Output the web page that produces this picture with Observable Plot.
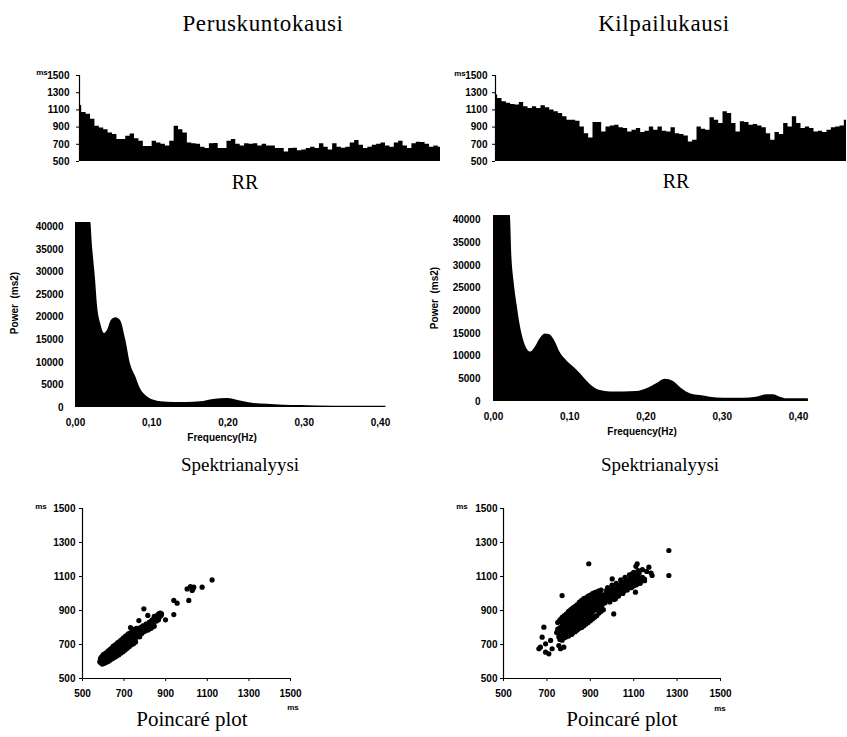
<!DOCTYPE html>
<html>
<head>
<meta charset="utf-8">
<script src="https://cdn.jsdelivr.net/npm/d3@7"></script>
<script src="https://cdn.jsdelivr.net/npm/@observablehq/plot@0.6"></script>
<style>
  html, body { margin: 0; padding: 0; background: #fff; }
  #fig { position: relative; width: 847px; height: 737px; background: #fff; overflow: hidden; }
  .panel { position: absolute; }
  .lbl { position: absolute; transform: translate(-50%, -50%); white-space: pre; line-height: 1; color: #000; }
  .serif { font-family: "Liberation Serif", "Times New Roman", serif; }
  .sans { font-family: "Liberation Sans", Arial, sans-serif; font-weight: bold; }
</style>
</head>
<body>
<div id="fig"></div>
<script>
// ---------------- data ----------------
const columnTitles = ["Peruskuntokausi", "Kilpailukausi"];
const rowTitles = ["RR", "Spektrianalyysi", "Poincaré plot"];

// RR interval series (ms)
const rrPerus = [1150,1070,1050,990,910,890,870,830,815,755,755,795,820,765,735,675,675,735,715,700,
  680,735,910,870,830,715,705,700,665,650,705,710,650,650,735,755,700,680,705,700,
  705,680,700,680,680,650,650,610,650,655,625,635,650,665,650,705,665,635,705,665,
  655,665,715,745,690,650,665,690,700,715,680,665,715,735,680,650,705,725,720,700,
  665,680,665];
const rrKilpa = [1273,1234,1195,1176,1164,1156,1187,1137,1117,1137,1117,1148,1125,1098,1078,1059,1020,980,980,969,
  902,824,773,953,953,844,902,914,922,891,883,844,863,883,836,852,902,863,902,852,
  844,891,824,813,797,727,746,902,875,863,1008,980,941,1078,1059,941,844,961,953,922,
  930,914,891,824,746,836,813,941,902,1020,941,883,902,883,844,852,836,863,891,902,
  914,980];
const rrTicks = [500, 700, 900, 1100, 1300, 1500];

// Power spectra (Hz, ms2); the first values are cut by the top of the plot
const freqPerus  = [0, 0.020, 0.022, 0.026, 0.029, 0.033, 0.038, 0.042, 0.047, 0.053, 0.059, 0.066, 0.072, 0.079, 0.085, 0.094, 0.103, 0.112, 0.129, 0.146, 0.164, 0.181, 0.199, 0.208, 0.221, 0.234, 0.251, 0.273, 0.295, 0.339, 0.383, 0.407];
const powerPerus = [41000, 41000, 36300, 28900, 22300, 18600, 16400, 17100, 19300, 19900, 19300, 14900, 9700, 6800, 4200, 2400, 1600, 1250, 1100, 1100, 1250, 1800, 2000, 1800, 1250, 900, 740, 500, 440, 300, 300, 300];
const freqKilpa  = [0, 0.022, 0.024, 0.027, 0.031, 0.035, 0.039, 0.044, 0.049, 0.055, 0.061, 0.068, 0.074, 0.081, 0.087, 0.096, 0.105, 0.114, 0.122, 0.131, 0.140, 0.153, 0.171, 0.188, 0.201, 0.214, 0.225, 0.236, 0.247, 0.258, 0.271, 0.284, 0.302, 0.328, 0.345, 0.359, 0.367, 0.376, 0.385, 0.413];
const powerKilpa = [41000, 41000, 32200, 26300, 21200, 16800, 13800, 11600, 10900, 12000, 13800, 14900, 14700, 13100, 10900, 9000, 7600, 6100, 4600, 3200, 2400, 2100, 2100, 2200, 2800, 3900, 4900, 4400, 2800, 1700, 1300, 960, 740, 740, 960, 1500, 1500, 960, 600, 600];
const freqTicks = [0, 0.1, 0.2, 0.3, 0.4];
const powerTicks = [0, 5000, 10000, 15000, 20000, 25000, 30000, 35000, 40000];

// Poincaré plots: [RR(n), RR(n+1)] in ms
const poincarePerus = [
  [583,598],[588,592],[590,607],[594,615],[597,600],[600,590],[602,622],[605,608],[608,598],[610,630],
  [612,615],[615,603],[618,638],[620,622],[622,610],[625,645],[627,630],[630,617],[632,652],[634,637],
  [637,624],[640,660],[642,645],[645,630],[647,668],[650,652],[652,638],[655,675],[657,660],[660,645],
  [662,683],[664,667],[667,652],[670,690],[672,674],[675,660],[677,698],[680,682],[682,667],[685,705],
  [687,690],[690,674],[692,712],[695,697],[697,682],[700,720],[702,704],[705,690],[707,727],[710,712],
  [712,697],[715,735],[718,719],[720,704],[723,742],[726,726],[729,712],[732,748],[735,733],[738,718],
  [742,752],[746,738],[750,725],[600,600],[620,615],[640,640],[660,660],[680,690],[700,700],[720,725],
  [586,615],[590,625],[596,632],[600,640],[604,628],[608,645],[612,650],[616,640],[620,655],[624,662],
  [628,650],[632,668],[636,675],[640,665],[644,682],[648,690],[652,678],[656,695],[660,700],[664,690],
  [668,708],[672,712],[676,700],[680,718],[684,725],[688,712],[692,730],[696,738],[700,728],[704,745],
  [708,750],[712,740],[716,755],[720,762],[724,750],[728,765],[732,770],[736,758],[740,772],[744,765],
  [748,778],[752,770],
  [595,585],[605,590],[615,595],[625,602],[635,610],[645,618],[655,625],[665,632],[675,640],[685,650],
  [695,658],[705,668],[715,678],[725,688],[735,698],[745,705],[755,715],
  [755,760],[760,742],[765,790],[768,770],[772,752],[778,800],[782,785],[785,765],[790,810],[795,792],
  [800,778],[805,820],[810,800],[815,785],[820,830],[825,812],[830,795],[835,845],[840,825],[845,808],
  [850,855],[855,838],[858,870],[862,850],[866,880],[870,862],[874,885],[878,870],
  [762,780],[775,745],[788,770],[798,805],[808,815],[818,790],[828,835],[838,805],[848,840],[858,845],
  [868,870],[880,880],[845,865],[865,845],[760,795],[752,790],
  [795,910],[771,841],[731,800],[899,845],[939,876],[939,959],[955,943],[1011,959],[1003,1027],[1027,1018],
  [1035,1037],[1019,1041],[1030,1025],[1075,1037],[1123,1080],[814,871]
];
const poincareKilpa = [
  [686,802],[670,684],[694,655],[663,675],[717,724],[724,675],[763,675],[755,694],[778,684],[709,645],
  [678,743],[694,704],[770,988],[893,1175],[1262,1253],[1262,1106],
  [745,770],[750,790],[755,745],[760,800],[762,765],[768,780],[770,740],[772,815],[775,760],[778,795],
  [780,775],[783,830],[785,750],[788,805],[790,785],[793,765],[795,840],[798,815],[800,795],[803,775],
  [805,860],[808,830],[810,805],[812,785],[815,760],[818,850],[820,820],[823,800],[825,875],[828,840],
  [830,815],[832,790],[835,865],[838,845],[840,825],[843,800],[845,890],[848,860],[850,835],[853,815],
  [855,900],[858,875],[860,850],[863,825],[865,905],[868,880],[870,860],[873,835],[875,915],[878,890],
  [880,870],[883,845],[885,925],[888,900],[890,880],[893,855],[895,930],[898,905],[900,885],[903,865],
  [905,945],[908,920],[910,895],[913,870],[915,955],[918,930],[920,905],[925,960],[928,935],[930,915],
  [935,970],[938,945],[940,920],[945,975],[948,950],[952,930],[955,985],[958,960],
  [750,830],[760,845],[770,860],[780,870],[790,880],[800,895],[810,905],[820,915],[830,925],[840,935],
  [850,950],[860,960],[870,970],[880,975],[890,985],[900,990],[910,1000],[920,1005],[930,1010],[940,1015],
  [950,1020],
  [765,835],[775,845],[785,855],[795,865],[805,875],[815,885],[825,895],[835,905],[845,915],[855,925],
  [865,935],[875,945],[885,950],[895,960],[905,970],[915,980],[925,985],[935,995],[945,1000],
  [790,860],[812,880],[842,910],[872,940],[902,965],[832,870],[862,910],[892,935],[922,960],[952,990],
  [760,730],[770,725],[780,740],[790,745],[800,750],[810,760],[820,770],[830,775],[840,785],[850,795],
  [860,800],[870,810],[880,820],[890,830],[900,840],[910,850],[920,860],[930,870],[940,885],[950,895],
  [960,905],
  [765,750],[775,765],[785,780],[795,780],[805,790],[815,805],[825,810],[835,820],[845,830],[855,845],
  [865,850],[875,860],[885,870],[895,880],[905,890],[915,900],[925,905],[935,915],[945,925],[955,935],
  [765,790],[775,810],[785,820],[795,830],[805,845],[815,835],[825,850],[835,880],[845,870],[855,885],
  [865,890],[875,900],[885,910],[895,915],[905,925],[915,940],[925,945],[935,955],[945,960],[955,970],
  [962,990],[965,970],[968,945],[972,1000],[975,980],[980,960],[985,1010],[990,990],[995,970],[1000,1020],
  [1005,1000],[1010,980],[1015,1030],[1020,1010],[1025,990],[1030,1045],[1035,1025],[1040,1005],[1045,1055],[1050,1035],
  [1055,1015],[1060,1065],[1065,1045],[1070,1025],[1075,1075],[1080,1055],[1085,1035],[1090,1085],[1095,1065],[1100,1045],
  [1105,1095],[1110,1075],[1115,1055],[1120,1100],[1125,1080],[1130,1060],[1140,1095],[1150,1085],
  [980,1035],[1000,1050],[1020,1060],[1040,1080],[1060,1095],[1080,1110],[1100,1125],[1120,1135],[1140,1140],[1160,1130],
  [985,1025],[1005,1035],[1025,1050],[1045,1065],[1065,1080],[1085,1095],[1105,1110],[1125,1120],
  [995,985],[1015,995],[1035,1010],[1055,1030],[1075,1045],[1095,1055],[1115,1070],[1135,1080],
  [990,950],[1010,965],[1030,985],[1050,1000],[1070,1020],[1090,1035],[1110,1050],[1130,1070],[1150,1075],
  [1008,880],[1108,1008],[1185,1106],[1170,1155],[1116,1175],[1001,1086],[975,1018],[1016,969],[1093,1116],[1070,1067],
  [1039,1037],[1180,1120],[1110,1160]
];
const poincareTicks = [500, 700, 900, 1100, 1300, 1500];

// ---------------- drawing ----------------
const fig = document.getElementById("fig");
const baseStyle = {fontFamily: '"Liberation Sans", Arial, sans-serif', fontSize: "10px", fontWeight: "bold", color: "#000", background: "transparent", overflow: "visible"};
const intFmt = d3.format("d");
const commaFmt = d => d3.format(".2f")(d).replace(".", ",");

function place(svg, left, top) {
  const div = document.createElement("div");
  div.className = "panel";
  div.style.left = left + "px";
  div.style.top = top + "px";
  div.appendChild(svg);
  fig.appendChild(div);
}
function label(text, cx, cy, cls, size, extra) {
  const d = document.createElement("div");
  d.className = "lbl " + cls;
  d.textContent = text;
  d.style.left = cx + "px";
  d.style.top = cy + "px";
  d.style.fontSize = size + "px";
  if (extra) Object.assign(d.style, extra);
  fig.appendChild(d);
}

function rrPlot(data, w, ml, mr, pad) {
  return Plot.plot({
    width: w, height: 110, marginLeft: ml, marginRight: mr, marginTop: 15, marginBottom: 9,
    style: baseStyle,
    x: {axis: null, domain: [0, data.length - 1]},
    y: {domain: [500, 1500], ticks: rrTicks, tickSize: 3, tickPadding: pad, tickFormat: intFmt, label: null},
    marks: [
      Plot.areaY(data, {x: (d, i) => i, y1: 500, y2: d => d, fill: "black", curve: "step"}),
      Plot.ruleX([0], {stroke: "black", strokeWidth: 1.2})
    ]
  });
}
function specPlot(freq, power, w, h, ml, mr, mt, mb, ypad) {
  const rows = freq.map((f, i) => ({f, p: power[i]}));
  return Plot.plot({
    width: w, height: h, marginLeft: ml, marginRight: mr, marginTop: mt, marginBottom: mb,
    style: baseStyle,
    x: {domain: [0, 0.4], ticks: freqTicks, tickSize: 0, tickPadding: 11, tickFormat: commaFmt, label: null},
    y: {domain: [0, 41000], ticks: powerTicks, tickSize: 0, tickPadding: ypad, tickFormat: intFmt, label: null},
    marks: [
      Plot.areaY(rows, {x: "f", y: "p", fill: "black", curve: "monotone-x"})
    ]
  });
}
function poincarePlot(data, ml, mr, ypad) {
  return Plot.plot({
    width: 330, height: 230, marginLeft: ml, marginRight: mr, marginTop: 13, marginBottom: 47,
    style: baseStyle,
    x: {domain: [500, 1500], ticks: poincareTicks, tickSize: 3, tickPadding: 8, tickFormat: intFmt, label: null},
    y: {domain: [500, 1500], ticks: poincareTicks, tickSize: 3, tickPadding: ypad, tickFormat: intFmt, label: null},
    marks: [
      Plot.ruleX([500], {stroke: "black", strokeWidth: 1.2}),
      Plot.ruleY([500], {stroke: "black", strokeWidth: 1.2}),
      Plot.dot(data, {x: d => d[0], y: d => d[1], r: 2.6, fill: "black"})
    ]
  });
}

place(rrPlot(rrPerus, 450, 79, 10, 7), 0, 60);
place(rrPlot(rrKilpa, 427, 75, 1, 5), 420, 60);
place(specPlot(freqPerus, powerPerus, 420, 240, 75, 40, 12, 43, 12), 0, 210);
place(specPlot(freqKilpa, powerKilpa, 437, 240, 83, 49, 10, 44, 13), 410, 205);
place(poincarePlot(poincarePerus, 82, 40, 4), 0, 495);
place(poincarePlot(poincareKilpa, 83, 30, 3), 420, 495);

// titles and labels
label(columnTitles[0], 263, 23, "serif", 23, {letterSpacing: "0.6px"});
label(columnTitles[1], 664, 23, "serif", 23, {letterSpacing: "0.6px"});
label(rowTitles[0], 245, 182, "serif", 20);
label(rowTitles[0], 676, 181, "serif", 20);
label(rowTitles[1], 240, 464, "serif", 19);
label(rowTitles[1], 660, 464, "serif", 19);
label(rowTitles[2], 192, 719, "serif", 21);
label(rowTitles[2], 622, 719, "serif", 21);

label("Frequency(Hz)", 222, 438, "sans", 10);
label("Frequency(Hz)", 642, 432, "sans", 10);
label("Power  (ms2)", 15, 303, "sans", 10, {transform: "translate(-50%, -50%) rotate(-90deg)"});
label("Power  (ms2)", 435, 298, "sans", 10, {transform: "translate(-50%, -50%) rotate(-90deg)"});

label("ms", 42, 73, "sans", 8);
label("ms", 460, 74, "sans", 8);
label("ms", 41, 507, "sans", 8);
label("ms", 462, 507, "sans", 8);
label("ms", 293, 708, "sans", 8);
label("ms", 720, 709, "sans", 8);
</script>
</body>
</html>
